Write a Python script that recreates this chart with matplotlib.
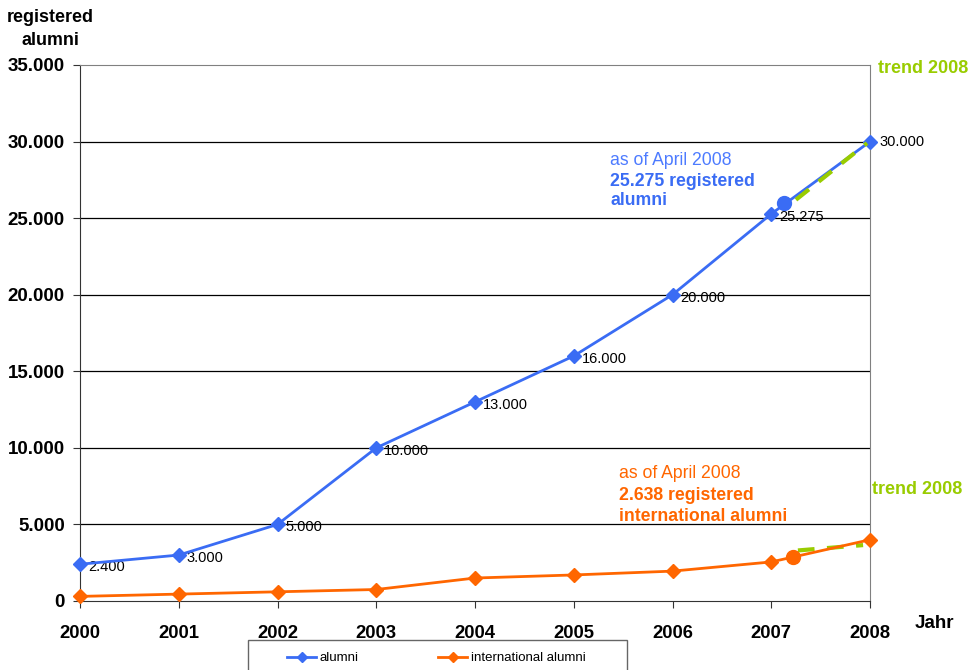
import numpy as np
import matplotlib
matplotlib.use("Agg")
from matplotlib import pyplot as plt
from matplotlib.ticker import FuncFormatter
from matplotlib.patches import Rectangle

plt.rcParams['font.family'] = ['Liberation Sans', 'DejaVu Sans']

# data
years = [2000, 2001, 2002, 2003, 2004, 2005, 2006, 2007, 2008]
alumni = [2400, 3000, 5000, 10000, 13000, 16000, 20000, 25275, 30000]
intl_alumni = [300, 450, 600, 750, 1500, 1700, 1950, 2550, 4000]
alumni_labels = ['2.400', '3.000', '5.000', '10.000', '13.000', '16.000', '20.000', '25.275', '30.000']

april_x = 2007.13
april_alumni = 26000
april_intl_x = 2007.22
april_intl = 2900
trend_alumni_x = [2007.25, 2007.97]
trend_alumni_y = [26200, 29900]
trend_intl_x = [2007.27, 2007.93]
trend_intl_y = [3300, 3650]

blue = '#3A6CF4'
orange = '#FF6600'
green = '#99CC00'

fig = plt.figure(figsize=(9.75, 6.7), dpi=100)
ax = fig.add_axes([0.0821, 0.1030, 0.8102, 0.8000])

ax.set_xlim(2000, 2008)
ax.set_ylim(0, 35000)
ax.set_yticks(np.arange(0, 35001, 5000))
ax.set_xticks(years)
ax.yaxis.set_major_formatter(FuncFormatter(lambda v, p: '0' if v == 0 else '{:,.0f}'.format(v).replace(',', '.')))
ax.tick_params(axis='both', direction='out', length=5, color='#333333')
ax.tick_params(axis='x', labelsize=13.3, pad=12)
ax.tick_params(axis='y', labelsize=13.5, pad=6)
for t in ax.get_xticklabels() + ax.get_yticklabels():
    t.set_fontweight('bold')

for y in range(5000, 35000, 5000):
    ax.axhline(y, color='black', lw=0.9, zorder=1)
ax.spines['top'].set_color('#808080')
ax.spines['right'].set_color('#808080')
ax.spines['left'].set_color('#333333')
ax.spines['bottom'].set_color('#333333')

# main series
l1, = ax.plot(years, alumni, color=blue, lw=2, marker='D', ms=7, clip_on=False, zorder=4, label='alumni')
l2, = ax.plot(years, intl_alumni, color=orange, lw=2, marker='D', ms=7, clip_on=False, zorder=4, label='international alumni')

# trend lines and april dots
ax.plot(trend_alumni_x, trend_alumni_y, color=green, lw=3, dashes=(4, 3), zorder=5)
ax.plot(trend_intl_x, trend_intl_y, color=green, lw=3, dashes=(4, 3), zorder=3)
ax.plot([april_x], [april_alumni], 'o', color=blue, ms=10, zorder=6)
ax.plot([april_intl_x], [april_intl], 'o', color=orange, ms=10, zorder=6)

# data labels
for x, y, s in zip(years, alumni, alumni_labels):
    if x == 2008:
        ax.text(x + 0.1, y, s, fontsize=10.5, va='center', ha='left')
    else:
        ax.text(x + 0.08, y - 200, s, fontsize=10.5, va='center', ha='left')

# annotations
ax.text(2005.37, 28470, 'as of April 2008', color='#4D7BFF', fontsize=12.7, va='baseline')
ax.text(2005.37, 27100, '25.275 registered', color=blue, fontsize=12.7, fontweight='bold', va='baseline')
ax.text(2005.37, 25860, 'alumni', color=blue, fontsize=12.7, fontweight='bold', va='baseline')
ax.text(2005.46, 8030, 'as of April 2008', color=orange, fontsize=12.7, va='baseline')
ax.text(2005.46, 6600, '2.638 registered', color=orange, fontsize=12.7, fontweight='bold', va='baseline')
ax.text(2005.46, 5200, 'international alumni', color=orange, fontsize=12.7, fontweight='bold', va='baseline')
ax.text(2008.08, 34500, 'trend 2008', color=green, fontsize=13, fontweight='bold', clip_on=False)
ax.text(2008.02, 7000, 'trend 2008', color=green, fontsize=13, fontweight='bold', clip_on=False)

fig.text(0.052, 1 - 22 / 670, 'registered', ha='center', va='baseline', fontsize=12.9, fontweight='bold')
fig.text(0.052, 1 - 45 / 670, 'alumni', ha='center', va='baseline', fontsize=12.9, fontweight='bold')
fig.text(915 / 975, 1 - 623 / 670, 'Jahr', ha='left', va='center', fontsize=13.5, fontweight='bold')

# legend box, partly cut by the bottom edge
fig.patches.append(Rectangle((248 / 975, -0.02), 379 / 975, 0.02 + 30 / 670, transform=fig.transFigure,
                             facecolor='white', edgecolor='#666666', lw=1))
leg = fig.legend(handles=[l1, l2], loc='center left', bbox_to_anchor=(287 / 975, 1 - 658 / 670),
                 ncol=2, fontsize=9.5, frameon=False, borderpad=0, borderaxespad=0,
                 handlelength=2.2, handletextpad=0.3, columnspacing=6.0)
for h in leg.legend_handles:
    h.set_markersize(5)

fig.savefig('out.png', dpi=100)
